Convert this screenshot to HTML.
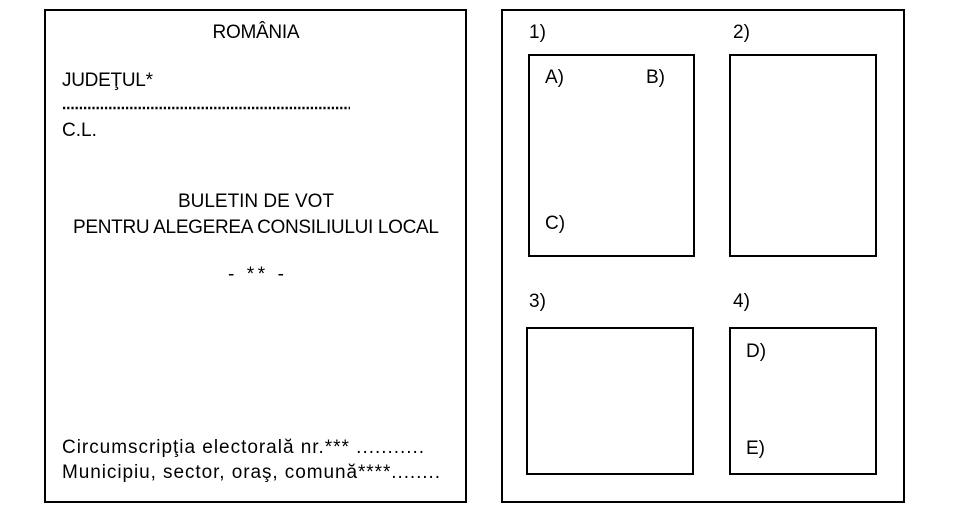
<!DOCTYPE html>
<html><head><meta charset="utf-8"><style>body{margin:0;background:#fff}</style></head>
<body>
<svg width="957" height="509" xmlns="http://www.w3.org/2000/svg" font-family="Liberation Sans, DejaVu Sans, sans-serif" font-size="19" fill="#000">
<g fill="none" stroke="#000" stroke-width="2">
<rect x="45" y="10" width="421" height="492"/>
<rect x="502" y="10" width="402" height="492"/>
<rect x="529" y="55" width="165" height="201"/>
<rect x="730" y="55" width="146" height="201"/>
<rect x="527" y="328" width="166" height="146"/>
<rect x="730" y="328" width="146" height="146"/>
</g>
<text x="256" y="38" text-anchor="middle" textLength="87">ROMÂNIA</text>
<text x="62" y="86" textLength="91">JUDEŢUL*</text>
<line x1="63" y1="108" x2="350" y2="108" stroke="#000" stroke-width="2.5" stroke-dasharray="2.2,2"/>
<text x="62" y="136">C.L.</text>
<text x="256" y="207" text-anchor="middle" textLength="156">BULETIN DE VOT</text>
<text x="256" y="233" textLength="366" text-anchor="middle">PENTRU ALEGEREA CONSILIULUI LOCAL</text>
<text x="256" y="280" text-anchor="middle" textLength="56">- ** -</text>
<text x="62" y="453" textLength="362">Circumscripţia electorală nr.*** ...........</text>
<text x="62" y="478" textLength="378">Municipiu, sector, oraş, comună****........</text>
<text x="529" y="38">1)</text>
<text x="733" y="38">2)</text>
<text x="545" y="83">A)</text>
<text x="646" y="83">B)</text>
<text x="545" y="229">C)</text>
<text x="529" y="307">3)</text>
<text x="733" y="307">4)</text>
<text x="746" y="357">D)</text>
<text x="746" y="454">E)</text>
</svg>
</body></html>
